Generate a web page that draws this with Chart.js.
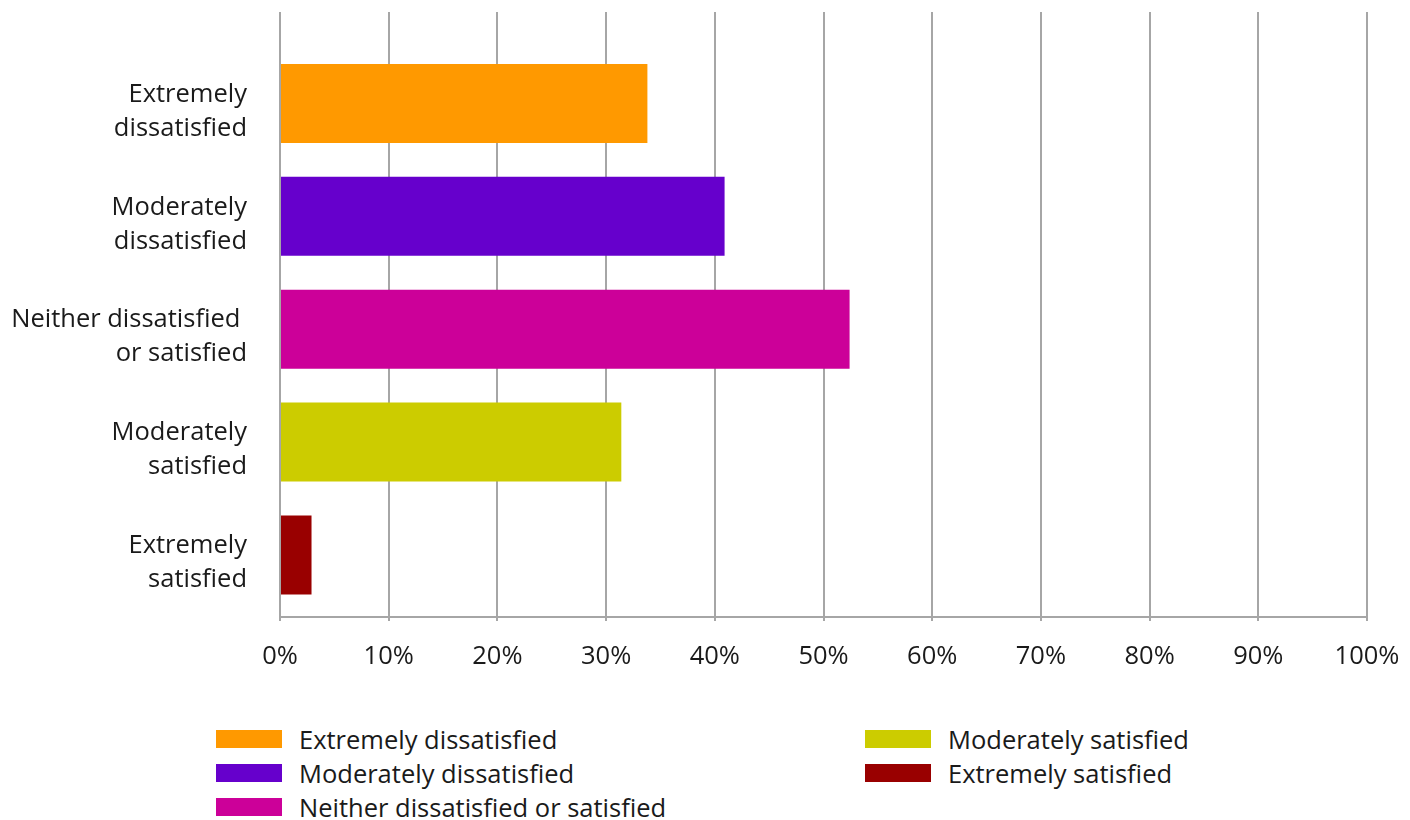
<!DOCTYPE html>
<html>
<head>
<meta charset="utf-8">
<script src="https://cdn.jsdelivr.net/npm/chart.js@4"></script>
<style>
  body { margin: 0; background: #fff; font-family: "Open Sans", sans-serif; color: #1a1a1a; }
  #wrap { position: relative; width: 1410px; height: 820px; overflow: hidden; }
  #box { position: absolute; left: 0; top: 0; width: 1410px; height: 700px; }
  .lg { position: absolute; top: 722px; }
  .lg div { display: flex; align-items: center; height: 34px; font-size: 25.5px; white-space: nowrap; }
  .lg span.sw { display: inline-block; width: 66px; height: 18px; margin-right: 17px; }
</style>
</head>
<body>
<div id="wrap">
  <div id="box"><canvas id="chart"></canvas></div>
  <div class="lg" id="lg1" style="left:216px"></div>
  <div class="lg" id="lg2" style="left:865px"></div>
</div>
<script>
// satisfaction survey - horizontal bars
const categories = ['Extremely dissatisfied', 'Moderately dissatisfied', 'Neither dissatisfied or satisfied', 'Moderately satisfied', 'Extremely satisfied'];
const tickLabels = [['Extremely', 'dissatisfied'], ['Moderately', 'dissatisfied'], ['Neither dissatisfied ', 'or satisfied'], ['Moderately', 'satisfied'], ['Extremely', 'satisfied']];
const values = [33.8, 40.9, 52.4, 31.4, 2.9];
const colors = ['#ff9900', '#6600cc', '#cc0099', '#cccc00', '#990000'];
const xTicks = [0, 10, 20, 30, 40, 50, 60, 70, 80, 90, 100];

const gridColor = '#a6a6a6';
const textColor = '#1a1a1a';
const font = { family: '"Open Sans", sans-serif', size: 25.5 };

new Chart(document.getElementById('chart'), {
    type: 'bar',
    data: {
        datasets: [{
            data: values.map((v, i) => ({ x: v, y: i })),
            backgroundColor: colors,
            categoryPercentage: 1,
            barPercentage: 0.7
        }]
    },
    options: {
        indexAxis: 'y',
        responsive: true,
        maintainAspectRatio: false,
        animation: false,
        layout: { padding: { top: 12, right: 43, left: 0, bottom: 0 } },
        plugins: { legend: { display: false }, tooltip: { enabled: false } },
        scales: {
            x: {
                type: 'linear',
                min: 0,
                max: 100,
                afterBuildTicks: axis => { axis.ticks = xTicks.map(v => ({ value: v })); },
                afterFit: scale => {
                    scale.height = 83;
                    scale.paddingLeft = 0;
                    scale.paddingRight = 0;
                },
                ticks: { callback: v => v + '%', color: textColor, font: font, padding: 20, maxRotation: 0 },
                grid: { color: gridColor, lineWidth: 2, drawTicks: true, tickLength: 4, tickColor: gridColor },
                border: { display: true, color: gridColor, width: 2 }
            },
            y: {
                type: 'linear',
                reverse: true,
                offset: false,
                min: -0.81,
                max: 4.55,
                afterBuildTicks: axis => { axis.ticks = categories.map((c, i) => ({ value: i })); },
                afterFit: scale => {
                    scale.width = 280;
                    // labels sit well inside the plot, no edge padding needed
                    scale.paddingTop = 0;
                    scale.paddingBottom = 0;
                },
                ticks: {
                    callback: v => tickLabels[v],
                    color: textColor,
                    font: { family: font.family, size: 25.5, lineHeight: 1.33 },
                    padding: 25,
                    labelOffset: 8
                },
                grid: { display: false, offset: false },
                border: { display: false }
            }
        }
    }
});

// legend in two columns, filled column by column
const half = Math.ceil(categories.length / 2);
categories.forEach((c, i) => {
    const row = document.createElement('div');
    row.innerHTML = `<span class="sw" style="background:${colors[i]}"></span>${c}`;
    document.getElementById(i < half ? 'lg1' : 'lg2').appendChild(row);
});
</script>
</body>
</html>
